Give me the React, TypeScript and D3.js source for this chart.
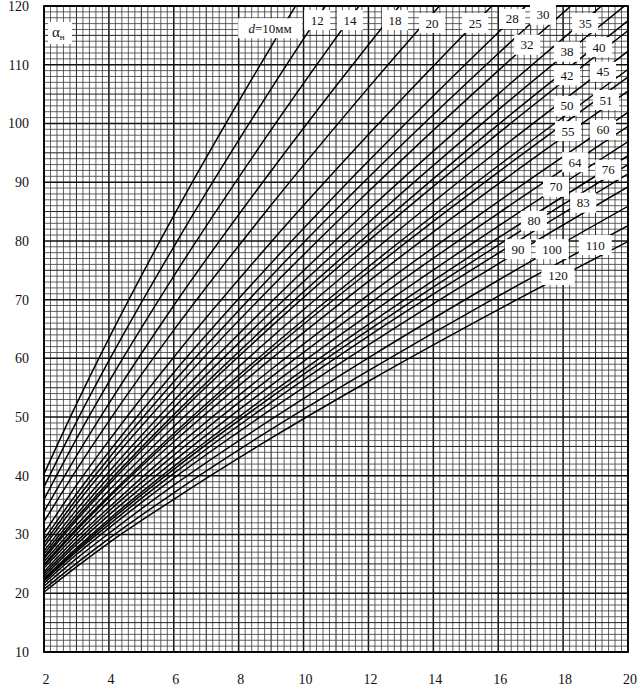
import React from "react";
import * as d3 from "d3";

// abscissa values at which curve values were read
const xValues = [2, 3, 4, 6, 9, 12, 16, 20];
const xTicks = [2, 4, 6, 8, 10, 12, 14, 16, 18, 20];
const yTicks = [10, 20, 30, 40, 50, 60, 70, 80, 90, 100, 110, 120];

// alpha_н values per diameter d (mm) at xValues
const a10 = [40.3, 52.2, 63.4, 84.3, 113.1, 140.0, 174.0, 206.2];
const a12 = [38.1, 49.2, 59.6, 79.0, 105.9, 130.9, 162.5, 192.5];
const a14 = [36.0, 46.3, 56.0, 74.0, 98.9, 122.2, 151.4, 179.3];
const a18 = [33.9, 43.4, 52.3, 69.0, 91.9, 113.4, 140.4, 166.1];
const a20 = [32.2, 41.0, 49.3, 64.8, 86.1, 106.1, 131.2, 155.1];
const a25 = [30.2, 38.4, 46.0, 60.2, 79.8, 98.1, 121.1, 143.0];
const a28 = [29.2, 36.9, 44.1, 57.6, 76.2, 93.6, 115.5, 136.3];
const a30 = [28.5, 36.0, 43.0, 56.0, 74.0, 90.8, 111.9, 132.0];
const a32 = [27.9, 35.2, 42.0, 54.6, 72.1, 88.4, 109.0, 128.5];
const a35 = [27.2, 34.2, 40.7, 52.8, 69.6, 85.3, 105.0, 123.8];
const a38 = [26.7, 33.4, 39.8, 51.6, 67.9, 83.1, 102.3, 120.5];
const a40 = [26.2, 32.8, 39.0, 50.4, 66.3, 81.1, 99.8, 117.5];
const a42 = [25.9, 32.4, 38.5, 49.8, 65.4, 80.0, 98.3, 115.8];
const a45 = [25.4, 31.6, 37.5, 48.4, 63.5, 77.6, 95.4, 112.3];
const a50 = [24.9, 31.0, 36.6, 47.2, 61.9, 75.6, 92.8, 109.2];
const a51 = [24.7, 30.7, 36.3, 46.7, 61.2, 74.7, 91.7, 107.9];
const a55 = [24.3, 30.1, 35.6, 45.8, 59.9, 73.1, 89.7, 105.5];
const a60 = [23.7, 29.4, 34.6, 44.5, 58.1, 70.8, 86.7, 101.9];
const a64 = [23.3, 28.8, 34.0, 43.5, 56.8, 69.2, 84.7, 99.5];
const a70 = [22.9, 28.3, 33.3, 42.5, 55.4, 67.4, 82.5, 96.9];
const a76 = [22.5, 27.7, 32.6, 41.6, 54.1, 65.8, 80.5, 94.5];
const a80 = [22.3, 27.4, 32.2, 41.1, 53.4, 64.8, 79.3, 93.0];
const a83 = [22.1, 27.1, 31.7, 40.4, 52.5, 63.8, 77.9, 91.4];
const a90 = [21.7, 26.6, 31.1, 39.6, 51.3, 62.3, 76.1, 89.2];
const a100 = [21.2, 25.9, 30.2, 38.4, 49.6, 60.1, 73.3, 85.9];
const a110 = [20.7, 25.1, 29.3, 37.1, 47.9, 57.9, 70.6, 82.6];
const a120 = [20.2, 24.5, 28.6, 36.0, 46.4, 56.1, 68.3, 79.9];

const diameters = [10, 12, 14, 18, 20, 25, 28, 30, 32, 35, 38, 40, 42, 45, 50, 51, 55, 60, 64, 70, 76, 80, 83, 90, 100, 110, 120];
const seriesValues = [a10, a12, a14, a18, a20, a25, a28, a30, a32, a35, a38, a40, a42, a45, a50, a51, a55, a60, a64, a70, a76, a80, a83, a90, a100, a110, a120];

// curve label anchors, in data units (x, alpha_н)
const labelText = ["10", "12", "14", "18", "20", "25", "28", "30", "35", "32", "38", "40", "42", "45", "50", "51", "55", "60", "64", "76", "70", "83", "80", "90", "100", "110", "120"];
const labelX = [8.97, 10.42, 11.43, 12.82, 13.96, 15.29, 16.43, 17.38, 18.68, 16.89, 18.12, 19.11, 18.12, 19.23, 18.12, 19.32, 18.15, 19.23, 18.37, 19.39, 17.78, 18.62, 17.1, 16.61, 17.66, 18.99, 17.84];
const labelY = [116.2, 117.6, 117.6, 117.6, 117.1, 117.1, 117.8, 118.5, 117.1, 113.4, 112.2, 113.0, 108.2, 108.8, 103.0, 104.0, 98.7, 98.9, 93.4, 92.1, 89.2, 86.5, 83.4, 78.6, 78.6, 79.3, 74.2];

const W = 644;
const H = 692;
const L = 44, R = 628, T = 6, B = 652;
const FONT = "'Liberation Serif', 'DejaVu Serif', serif";

export default function App() {
  const x = d3.scaleLinear().domain([2, 20]).range([L, R]);
  const y = d3.scaleLinear().domain([10, 120]).range([B, T]);

  const line = d3
    .line<[number, number]>()
    .x((d) => x(d[0]))
    .y((d) => y(d[1]))
    .curve(d3.curveMonotoneX);

  const minorX = d3.range(2, 20.001, 0.2).map((v) => Math.round(v * 10) / 10);
  const minorY = d3.range(10, 120.001, 1);

  const vStyle = (v: number) => {
    const r = Math.round(v * 10);
    if (r % 20 === 0) return { w: 1.5, c: "#111" };
    if (r % 10 === 0) return { w: 1.0, c: "#222" };
    return { w: 0.8, c: "#3a3a3a" };
  };
  const hStyle = (v: number) => {
    if (v % 10 === 0) return { w: 1.5, c: "#111" };
    if (v % 5 === 0) return { w: 1.0, c: "#222" };
    return { w: 0.8, c: "#3a3a3a" };
  };

  return (
    <svg
      width={W}
      height={H}
      viewBox={`0 0 ${W} ${H}`}
      style={{ position: "absolute", left: 0, top: 0, background: "#fff" }}
    >
      <defs>
        <clipPath id="plot">
          <rect x={L} y={T} width={R - L} height={B - T} />
        </clipPath>
      </defs>
      <rect x={0} y={0} width={W} height={H} fill="#fff" />

      {/* grid */}
      <g>
        {minorX.map((v) => {
          const s = vStyle(v);
          return <line key={"vx" + v} x1={x(v)} x2={x(v)} y1={T} y2={B} stroke={s.c} strokeWidth={s.w} />;
        })}
        {minorY.map((v) => {
          const s = hStyle(v);
          return <line key={"hy" + v} x1={L} x2={R} y1={y(v)} y2={y(v)} stroke={s.c} strokeWidth={s.w} />;
        })}
      </g>

      {/* curves */}
      <g clipPath="url(#plot)">
        {seriesValues.map((vals, i) => (
          <path
            key={"c" + diameters[i]}
            d={line(xValues.map((xv, j) => [xv, vals[j]] as [number, number])) || ""}
            fill="none"
            stroke="#000"
            strokeWidth={1.5}
          />
        ))}
      </g>

      {/* frame */}
      <rect x={L} y={T} width={R - L} height={B - T} fill="none" stroke="#000" strokeWidth={1.8} />

      {/* curve labels */}
      <g fontFamily={FONT} fontSize={13}>
        {labelText.map((t, i) => {
          const cx = x(labelX[i]);
          const cy = y(labelY[i]);
          const isFirst = i === 0;
          const w = isFirst ? 64 : t.length * 7 + 12;
          const h = 20;
          return (
            <g key={"lab" + i}>
              <rect x={cx - w / 2} y={cy - h / 2} width={w} height={h} fill="#fff" />
              <text x={cx} y={cy} dy="0.35em" textAnchor="middle" fill="#111">
                {isFirst ? (
                  <>
                    <tspan fontStyle="italic">d</tspan>
                    <tspan>=10мм</tspan>
                  </>
                ) : (
                  t
                )}
              </text>
            </g>
          );
        })}
        {/* axis symbol */}
        <rect x={48} y={22} width={24} height={22} fill="#fff" />
        <text x={52} y={37} fontSize={15} fill="#111">
          α<tspan fontSize={9} dy={3}>н</tspan>
        </text>
      </g>

      {/* y tick labels */}
      <g fontFamily={FONT} fontSize={14} fill="#111">
        {yTicks.map((v) => (
          <text key={"yt" + v} x={29} y={y(v)} dy="0.35em" textAnchor="end">
            {v}
          </text>
        ))}
      </g>

      {/* x tick labels */}
      <g fontFamily={FONT} fontSize={14} fill="#111">
        {xTicks.map((v) => (
          <text key={"xt" + v} x={x(v) + 2} y={679} dy="0.35em" textAnchor="middle">
            {v}
          </text>
        ))}
      </g>
    </svg>
  );
}
